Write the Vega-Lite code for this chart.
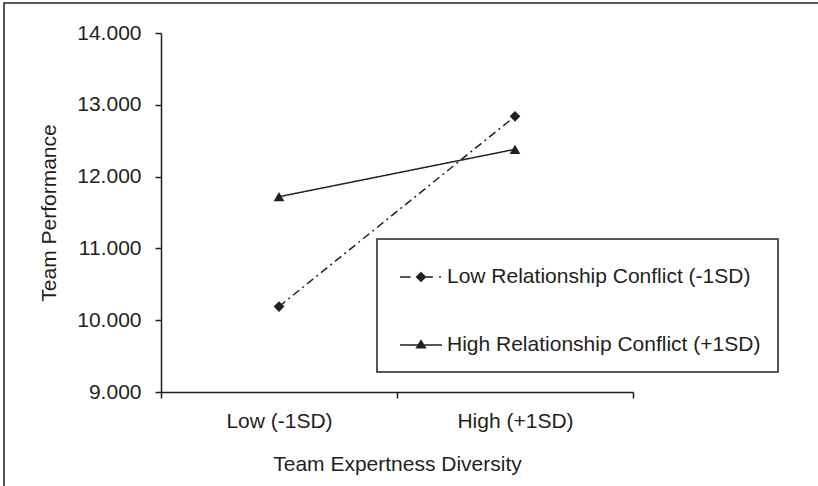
{
  "$schema": "https://vega.github.io/schema/vega-lite/v6.json",
  "width": 814,
  "height": 483,
  "autosize": {"type": "none"},
  "padding": {"left": 4, "top": 3, "right": 0, "bottom": 0},
  "background": "white",
  "view": {"stroke": "#231f20", "strokeWidth": 1.5, "strokeDash": [814, 1297, 483, 10]},
  "config": {
    "view": {"stroke": "#231f20", "strokeWidth": 1.5, "strokeDash": [814, 1297, 483, 10]},
    "font": "Liberation Sans",
    "axis": {
      "grid": false,
      "domainColor": "#231f20",
      "domainWidth": 1.5,
      "tickColor": "#231f20",
      "tickWidth": 1.5,
      "tickSize": 6,
      "labelFont": "Liberation Sans",
      "labelFontSize": 21,
      "labelColor": "#231f20",
      "titleFont": "Liberation Sans",
      "titleFontSize": 21,
      "titleFontWeight": "normal",
      "titleColor": "#231f20"
    },
    "legend": {"strokeWidth": 1.5}
  },
  "data": {
    "values": [
      {"diversity": "Low (-1SD)", "conflict": "Low Relationship Conflict (-1SD)", "performance": 10.19},
      {"diversity": "High (+1SD)", "conflict": "Low Relationship Conflict (-1SD)", "performance": 12.84},
      {"diversity": "Low (-1SD)", "conflict": "High Relationship Conflict (+1SD)", "performance": 11.72},
      {"diversity": "High (+1SD)", "conflict": "High Relationship Conflict (+1SD)", "performance": 12.38}
    ]
  },
  "encoding": {
    "x": {
      "field": "diversity",
      "type": "nominal",
      "sort": ["Low (-1SD)", "High (+1SD)"],
      "scale": {"type": "band", "range": [157, 629], "paddingInner": 0, "paddingOuter": 0},
      "axis": {
        "title": "Team Expertness Diversity",
        "labelAngle": 0,
        "tickBand": "extent",
        "offset": -94,
        "labelPadding": 12,
        "titleY": 78,
        "titleBaseline": "alphabetic"
      }
    },
    "y": {
      "field": "performance",
      "type": "quantitative",
      "scale": {"domain": [9, 14], "range": [389, 30], "nice": false, "zero": false},
      "axis": {
        "title": "Team Performance",
        "values": [9, 10, 11, 12, 13, 14],
        "format": ".3f",
        "offset": -157,
        "labelPadding": 14,
        "titleX": -106,
        "titleBaseline": "alphabetic"
      }
    }
  },
  "layer": [
    {
      "mark": {"type": "line", "color": "#231f20", "strokeWidth": 1.5},
      "encoding": {
        "detail": {"field": "conflict", "type": "nominal"},
        "strokeDash": {
          "condition": {"test": "datum.conflict === 'Low Relationship Conflict (-1SD)'", "value": [8, 4, 2, 4]},
          "value": [1, 0]
        }
      }
    },
    {
      "mark": {"type": "point", "filled": true, "color": "#231f20", "opacity": 1, "size": 115},
      "encoding": {
        "shape": {
          "condition": {"test": "datum.conflict === 'Low Relationship Conflict (-1SD)'", "value": "diamond"},
          "value": "triangle-up"
        }
      }
    },
    {
      "mark": {"type": "point", "filled": true, "color": "#231f20", "opacity": 0, "size": 115},
      "encoding": {
        "shape": {
          "field": "conflict",
          "type": "nominal",
          "scale": {
            "domain": ["Low Relationship Conflict (-1SD)", "High Relationship Conflict (+1SD)"],
            "range": [
              "M-1,-0.035H-0.5V0.035H-1ZM0.2,-0.035H0.57V0.035H0.2ZM0.86,-0.035H0.95V0.035H0.86ZM0,-0.25L0.26,0L0,0.25L-0.26,0Z",
              "M-1,-0.035H1V0.035H-1ZM0,-0.27L0.27,0.17L-0.27,0.17Z"
            ]
          },
          "legend": {
            "orient": "none",
            "legendX": 373,
            "legendY": 236,
            "title": null,
            "strokeColor": "#231f20",
            "padding": 17,
            "symbolOffset": 6,
            "symbolSize": 1764,
            "symbolOpacity": 1,
            "labelFontSize": 21,
            "labelFont": "Liberation Sans",
            "labelColor": "#231f20",
            "labelOffset": 5,
            "labelLimit": 0,
            "rowPadding": 37,
            "symbolStrokeWidth": 0,
            "symbolFillColor": "#231f20"
          }
        }
      }
    }
  ]
}
